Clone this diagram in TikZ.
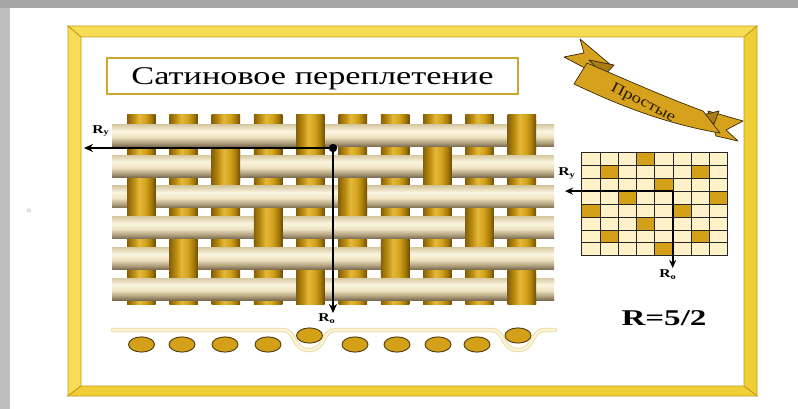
\documentclass[tikz,border=0pt]{standalone}
\usepackage{fontspec}
\setmainfont{Liberation Serif}
\usepackage{graphicx}
\usetikzlibrary{arrows.meta}

% palette
\definecolor{bandgray}{HTML}{A5A5A5}
\definecolor{sidegray}{HTML}{BEBEBE}
\definecolor{frameA}{HTML}{F7DD55}
\definecolor{frameB}{HTML}{EFCE36}
\definecolor{frameedge}{HTML}{C69D1E}
\definecolor{titleedge}{HTML}{CFA534}
\definecolor{warpA}{HTML}{86600A}
\definecolor{warpB}{HTML}{BE8E10}
\definecolor{warpC}{HTML}{E4B83A}
\definecolor{warpD}{HTML}{D5A41E}
\definecolor{warpE}{HTML}{A97C0B}
\definecolor{warpF}{HTML}{6C4E05}
\definecolor{weftBot}{HTML}{7B6C52}
\definecolor{weftB}{HTML}{B2A27E}
\definecolor{weftC}{HTML}{EFE4C2}
\definecolor{weftD}{HTML}{FBF5E1}
\definecolor{weftTop}{HTML}{D7C9A1}
\definecolor{goldfill}{HTML}{D4A017}
\definecolor{goldline}{HTML}{4A3A10}
\definecolor{profileedge}{HTML}{EEDFA6}
\definecolor{profile}{HTML}{FBF5DC}
\definecolor{cellpale}{HTML}{FFF2C8}
\definecolor{celldark}{HTML}{D4A019}
\definecolor{ribbonfill}{HTML}{D6A21E}
\definecolor{ribbonfold}{HTML}{A97D12}
\definecolor{ribbonedge}{HTML}{3A2906}
\definecolor{ribbontext}{HTML}{2A1C02}

% cylinder shadings for the threads
\pgfdeclarehorizontalshading{warpshade}{100bp}{color(0bp)=(warpA); color(25bp)=(warpA); color(37bp)=(warpB); color(46bp)=(warpC); color(57bp)=(warpD); color(67bp)=(warpE); color(75bp)=(warpF); color(100bp)=(warpF)}
\pgfdeclareverticalshading{weftshade}{100bp}{color(0bp)=(weftBot); color(25bp)=(weftBot); color(34bp)=(weftB); color(47bp)=(weftC); color(60bp)=(weftD); color(75bp)=(weftTop); color(100bp)=(weftTop)}

\tikzset{
  framepart/.style={draw=frameedge, line width=0.9pt, line join=miter},
  warp/.style={shading=warpshade},
  weft/.style={shading=weftshade},
  axisarrow/.style={draw=black, line width=2.3pt, -{Stealth[length=9pt,width=8pt]}},
  gridarrow/.style={draw=black, line width=1.9pt, -{Stealth[length=8pt,width=7pt]}},
  rlabel/.style={inner sep=0pt, font=\fontsize{12}{12}\selectfont\bfseries},
  yarn/.style={fill=goldfill, draw=goldline, line width=0.9pt},
  cell/.style={draw=black!85, line width=0.7pt},
  ribbonpart/.style={fill=ribbonfill, draw=ribbonedge, line width=0.7pt, line join=round},
  ribbonfoldpart/.style={fill=ribbonfold, draw=ribbonedge, line width=0.7pt, line join=round}
}

\begin{document}
\begin{tikzpicture}[x=1pt, y=-1pt]
\useasboundingbox (0,0) rectangle (798,409);
\fill[white] (0,0) rectangle (798,409);

% slide margins
\fill[bandgray] (0,0) rectangle (798,8);
\fill[sidegray] (0,8) rectangle (10,409);
\node[rotate=90, inner sep=0pt, text=black!45, font=\fontsize{5}{5}\selectfont] (pageno) at (29,211) {15};

% bevelled golden frame
\path[framepart, fill=frameA] (68,26) -- (757,26) -- (744,37) -- (81,37) -- cycle;
\path[framepart, fill=frameA] (68,26) -- (81,37) -- (81,386) -- (68,396) -- cycle;
\path[framepart, fill=frameB] (757,26) -- (757,396) -- (744,386) -- (744,37) -- cycle;
\path[framepart, fill=frameB] (68,396) -- (81,386) -- (744,386) -- (757,396) -- cycle;

% title
\draw[draw=titleedge, line width=2.4pt, fill=white] (107,58) rectangle (518,94);
\node[anchor=base, inner sep=0pt] (title) at (312.5,84.5)
  {\resizebox{362pt}{\height}{\fontsize{25.5}{30}\selectfont Сатиновое переплетение}};

% warp threads (vertical)
\foreach \i in {0,...,9} {
  \fill[warp] ({127+42.3*\i},115) rectangle ++(28.5,189);
}
% weft threads (horizontal)
\foreach \j in {0,...,5} {
  \fill[weft] (112,{124.5+30.7*\j}) rectangle (554,{146.5+30.7*\j});
}
% warp floats lying over the weft (satin 5/2)
\foreach \j in {0,...,5} {
  \pgfmathtruncatemacro\c{mod(14-2*\j,5)}
  \foreach \k in {0,5} {
    \fill[warp] ({127+42.3*(\c+\k)},{121+30.7*\j}) rectangle ++(28.5,29);
  }
}

% repeat arrows on the weave
\coordinate (wdot) at (333,148);
\coordinate (wy) at (84,148);
\coordinate (wo) at (333,313);
\draw[axisarrow] (wdot) -- (wy);
\draw[axisarrow] (wdot) -- (wo);
\fill (wdot) circle[radius=4.2pt];
\node[rlabel] (wRy) at (101,131) {\scalebox{1.3}[1]{R\textsubscript{у}}};
\node[rlabel] (wRo) at (327,319) {\scalebox{1.3}[1]{R\textsubscript{о}}};

% cross-section along the weft
\def\profilepath{(113,330) -- (283,330) .. controls (296,330) and (292,350) .. (309,350)
  .. controls (326,350) and (322,330) .. (335,330) -- (492,330)
  .. controls (505,330) and (501,350) .. (518,350)
  .. controls (535,350) and (531,330) .. (544,330) -- (555,330)}
\draw[profileedge, line width=4.4pt, line cap=round] \profilepath;
\draw[profile, line width=2.2pt, line cap=round] \profilepath;
\foreach \x in {141.5,182,225,268,355,397,438,477} {
  \draw[yarn] (\x,344.5) ellipse[x radius=13pt, y radius=7.6pt];
}
\foreach \x in {309.5,518} {
  \draw[yarn] (\x,335.5) ellipse[x radius=13pt, y radius=7.6pt];
}

% weave draft (8 x 8)
\foreach \r in {0,...,7} {
  \foreach \q in {0,...,7} {
    \fill[cellpale] ({581.7+18.25*\q},{152.3+12.925*\r}) rectangle ++(18.25,12.925);
  }
}
\foreach \q/\r in {3/0,1/1,6/1,4/2,2/3,7/3,0/4,5/4,3/5,1/6,6/6,4/7} {
  \fill[celldark] ({581.7+18.25*\q},{152.3+12.925*\r}) rectangle ++(18.25,12.925);
}
\foreach \q in {0,...,8} {
  \draw[cell] ({581.7+18.25*\q},152.3) -- ++(0,103.4);
}
\foreach \r in {0,...,8} {
  \draw[cell] (581.7,{152.3+12.925*\r}) -- ++(146,0);
}
\coordinate (gc) at (672.7,191.1);
\coordinate (gy) at (565,191.1);
\coordinate (go) at (672.7,268);
\draw[gridarrow] (gc) -- (gy);
\draw[gridarrow] (gc) -- (go);
\node[rlabel] (gRy) at (567,173.5) {\scalebox{1.3}[1]{R\textsubscript{у}}};
\node[rlabel] (gRo) at (668,275) {\scalebox{1.3}[1]{R\textsubscript{о}}};

% repeat size
\node[anchor=base, inner sep=0pt] (rsize) at (664,325)
  {\resizebox{85pt}{\height}{\fontsize{22.5}{26}\selectfont\bfseries R=5/2}};

% ribbon banner: notched tails, folds, curved band
\path[ribbonpart] (612,66) -- (580,39) -- (584,53) -- (564,57) -- (596,74) -- cycle;
\path[ribbonfoldpart] (589,60) -- (614,65) -- (604,76) -- cycle;
\path[ribbonpart] (708,111) -- (743,121) -- (726,130) -- (738,141) -- (716,136) -- cycle;
\path[ribbonfoldpart] (698,116) -- (719,111) -- (714,124) -- cycle;
\path[ribbonpart] (587,63) .. controls (620,77) and (662,96) .. (703,111)
  -- (720,133) .. controls (660,123) and (610,101) .. (574,84) -- cycle;
\node[rotate=-27, inner sep=0pt, text=ribbontext] (simple) at (643,103)
  {\scalebox{1.25}[1]{\fontsize{15}{15}\selectfont Простые}};
\end{tikzpicture}
\end{document}
